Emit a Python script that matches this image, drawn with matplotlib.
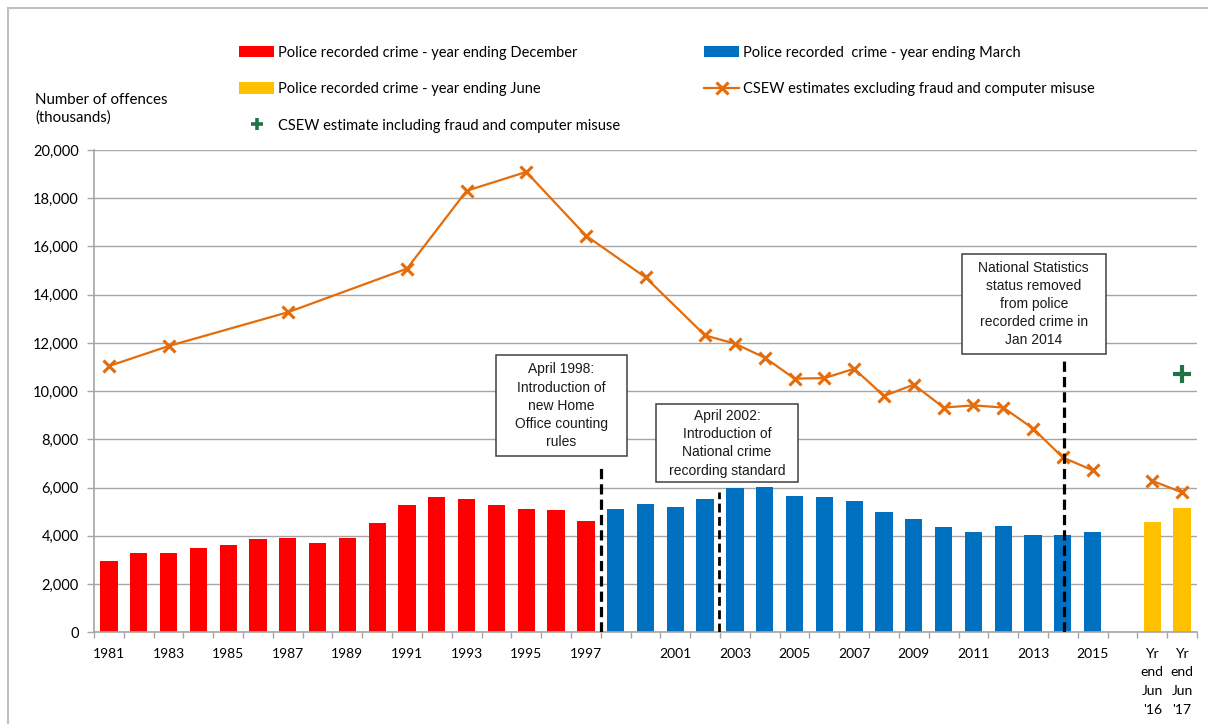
import matplotlib.pyplot as plt
from matplotlib.patches import Rectangle
from matplotlib.lines import Line2D

plt.rcParams['font.family'] = ['Lato', 'DejaVu Sans']

# Police recorded crime (thousands)
DEC_YEARS = [str(y) for y in range(1981, 1998)]
DEC_VALUES = [2970, 3280, 3280, 3500, 3620, 3850, 3890, 3710, 3890, 4540,
              5280, 5620, 5540, 5280, 5110, 5060, 4620]
MAR_YEARS = [str(y) for y in range(1999, 2016)]
MAR_VALUES = [5110, 5330, 5210, 5540, 5990, 6010, 5660, 5600, 5450, 4990,
              4710, 4360, 4140, 4410, 4040, 4040, 4170]
JUN_YEARS = ["Yr\nend\nJun\n'16", "Yr\nend\nJun\n'17"]
JUN_VALUES = [4570, 5170]
CATEGORIES = DEC_YEARS + MAR_YEARS + [""] + JUN_YEARS

# CSEW estimates (thousands)
CSEW_YEARS = ["1981", "1983", "1987", "1991", "1993", "1995", "1997", "2000",
              "2002", "2003", "2004", "2005", "2006", "2007", "2008", "2009",
              "2010", "2011", "2012", "2013", "2014", "2015"]
CSEW_VALUES = [11040, 11870, 13270, 15080, 18310, 19090, 16450, 14720,
               12310, 11970, 11390, 10520, 10540, 10930, 9800, 10270,
               9320, 9410, 9320, 8450, 7250, 6720]
CSEW_JUN_VALUES = [6280, 5800]
CSEW_FRAUD_YEAR = [JUN_YEARS[1]]
CSEW_FRAUD_VALUE = [10720]

TICK_LABELS = [str(y) for y in range(1981, 1998, 2)] + \
    [str(y) for y in range(2001, 2016, 2)] + JUN_YEARS

RED = "#FF0000"
BLUE = "#0070C0"
YELLOW = "#FFC000"
ORANGE = "#E46C0A"
GREEN = "#217346"
GRID = "#A6A6A6"

pos = {c: i for i, c in enumerate(CATEGORIES)}

fig = plt.figure(figsize=(12.08, 7.24), dpi=100)
ax = fig.add_axes([94 / 1208, 1 - 632.3 / 724, (1197 - 94) / 1208, (632.3 - 150) / 724])

w = 0.58
b1 = ax.bar([pos[c] for c in DEC_YEARS], DEC_VALUES, width=w, color=RED, zorder=2,
            label="Police recorded crime - year ending December")
b2 = ax.bar([pos[c] for c in MAR_YEARS], MAR_VALUES, width=w, color=BLUE, zorder=2,
            label="Police recorded  crime - year ending March")
b3 = ax.bar([pos[c] for c in JUN_YEARS], JUN_VALUES, width=w, color=YELLOW, zorder=2,
            label="Police recorded crime - year ending June")

l1, = ax.plot([pos[c] for c in CSEW_YEARS], CSEW_VALUES, color=ORANGE, lw=1.6,
              marker="x", markersize=9, mew=2.2, zorder=4,
              label="CSEW estimates excluding fraud and computer misuse")
ax.plot([pos[c] for c in JUN_YEARS], CSEW_JUN_VALUES, color=ORANGE, lw=1.6,
        marker="x", markersize=9, mew=2.2, zorder=4)
ax.plot([pos[c] for c in CSEW_FRAUD_YEAR], CSEW_FRAUD_VALUE, ls="none",
        marker="+", markersize=13, mew=3, color=GREEN, zorder=4)
# smaller marker for the legend entry
s1 = Line2D([], [], ls="none", marker="+", markersize=8, mew=2.6, color=GREEN,
            label="CSEW estimate including fraud and computer misuse")

# break lines
dash = (0, (3.2, 1.6))
ax.vlines(16.5, 0, 6970, colors="black", lw=2.3, linestyles=[dash], zorder=5)
ax.vlines(20.45, 0, 5810, colors="black", lw=2.0, linestyles=[dash], zorder=5)
ax.vlines(32.05, 0, 11280, colors="black", lw=2.3, linestyles=[dash], zorder=5)

# annotation boxes
boxes = [
    (12.98, 7300, 4.40, 4183, "April 1998:\nIntroduction of\nnew Home\nOffice counting\nrules"),
    (18.35, 6224, 4.76, 3229, "April 2002:\nIntroduction of\nNational crime\nrecording standard"),
    (28.61, 11524, 4.83, 4182, "National Statistics\nstatus removed\nfrom police\nrecorded crime in\nJan 2014"),
]
for x0, y0, bw, bh, txt in boxes:
    ax.add_patch(Rectangle((x0, y0), bw, bh, facecolor="white", edgecolor="#404040",
                           lw=1.1, zorder=6))
    ax.text(x0 + bw / 2, y0 + bh / 2, txt, ha="center", va="center", fontsize=10,
            family=["Liberation Sans", "DejaVu Sans"], linespacing=1.38, zorder=7,
            color="#1a1a1a")

ax.set_xlim(-0.5, len(CATEGORIES) - 0.5)
ax.set_ylim(0, 20000)
ax.set_yticks(range(0, 20001, 2000))
ax.set_yticklabels([f"{v:,}" for v in range(0, 20001, 2000)], fontsize=10.5)
ax.yaxis.grid(True, color=GRID, lw=1)
ax.set_axisbelow(True)

ax.set_xticks([pos[c] for c in TICK_LABELS])
ax.set_xticklabels(TICK_LABELS, fontsize=10)
ax.set_xticks([i - 0.5 for i in range(len(CATEGORIES) + 1)], minor=True)
ax.tick_params(axis="x", which="major", length=0, pad=11)
ax.tick_params(axis="x", which="minor", length=4, color=GRID, width=1)
ax.tick_params(axis="y", length=5, color=GRID, width=1, pad=6)
for lab in ax.get_xticklabels():
    lab.set_linespacing(1.68)
    lab.set_va("top")

for side in ["top", "right"]:
    ax.spines[side].set_visible(False)
for side in ["left", "bottom"]:
    ax.spines[side].set_color(GRID)
    ax.spines[side].set_linewidth(1.2)

leg_kw = dict(loc="upper left", frameon=False, fontsize=10.5, handlelength=2.4,
              handleheight=0.8, handletextpad=0.3, labelspacing=1.55,
              borderpad=0, borderaxespad=0)
leg1 = fig.legend(handles=[b1, b3, s1], bbox_to_anchor=(239 / 1208, 1 - 45.5 / 724), **leg_kw)
leg2 = fig.legend(handles=[b2, l1], bbox_to_anchor=(704 / 1208, 1 - 45.5 / 724), **leg_kw)

fig.text(35 / 1208, 1 - 93 / 724, "Number of offences\n(thousands)", ha="left", va="top",
         fontsize=10.8, linespacing=1.3)

# outer chart frame
fig.add_artist(Line2D([8 / 1208, 8 / 1208], [0, 1 - 8 / 724], transform=fig.transFigure,
                      color="#C0C0C0", lw=1.5))
fig.add_artist(Line2D([8 / 1208, 1], [1 - 8 / 724, 1 - 8 / 724], transform=fig.transFigure,
                      color="#C0C0C0", lw=1.5))

fig.savefig("out.png", dpi=100)
